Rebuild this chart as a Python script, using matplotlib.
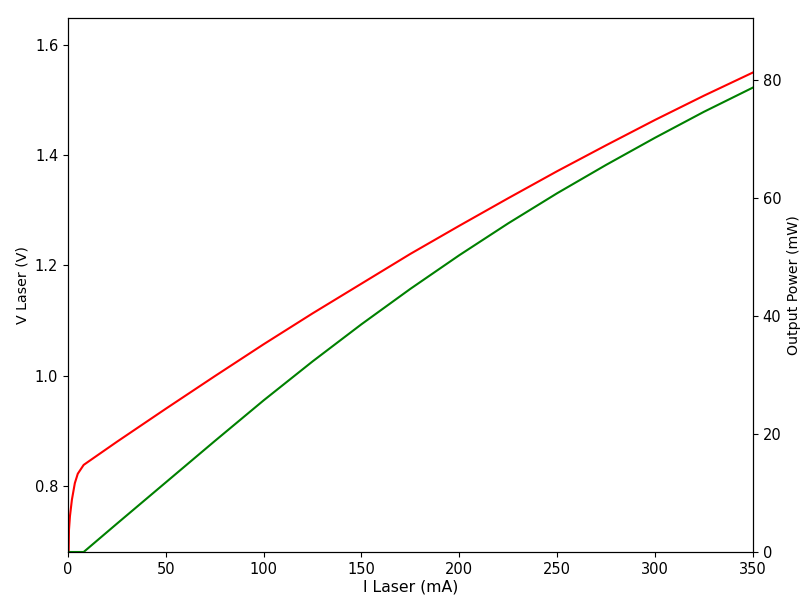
import matplotlib
matplotlib.use('Agg')
import matplotlib.pyplot as plt

"""Values read off the reference picture"""
i_voltage = [0, 0.5, 1, 2, 3.5, 5, 8, 10, 25, 50, 75, 100, 125, 150, 175,
             200, 225, 250, 275, 300, 325, 350]
v_laser = [0.60, 0.72, 0.745, 0.775, 0.805, 0.822, 0.838, 0.843, 0.880, 0.940,
           0.999, 1.057, 1.113, 1.167, 1.221, 1.272, 1.322, 1.371, 1.418,
           1.464, 1.508, 1.550]

i_power = [0, 8, 25, 50, 75, 100, 125, 150, 175, 200, 225, 250, 275, 300,
           325, 350]
p_out = [0, 0, 4.8, 11.8, 18.8, 25.7, 32.3, 38.6, 44.6, 50.3, 55.7, 60.8,
         65.6, 70.2, 74.6, 78.7]

fig, ax1 = plt.subplots(figsize=(8, 6), dpi=100)
fig.subplots_adjust(left=0.085, right=0.941, top=0.97, bottom=0.08)

ax1.plot(i_voltage, v_laser, color='red', linewidth=1.5)
ax1.set_xlim(0, 350)
ax1.set_ylim(0.68, 1.649)
ax1.set_xlabel('I Laser (mA)', fontsize=11.3, labelpad=2)
ax1.set_ylabel('V Laser (V)', fontsize=10.2)
ax1.tick_params(labelsize=10.5)

ax2 = ax1.twinx()
ax2.plot(i_power, p_out, color='green', linewidth=1.5)
ax2.set_ylim(0, 90.5)
ax2.set_ylabel('Output Power (mW)', fontsize=10.2, labelpad=4)
ax2.tick_params(labelsize=10.5)

plt.savefig('out.png')
